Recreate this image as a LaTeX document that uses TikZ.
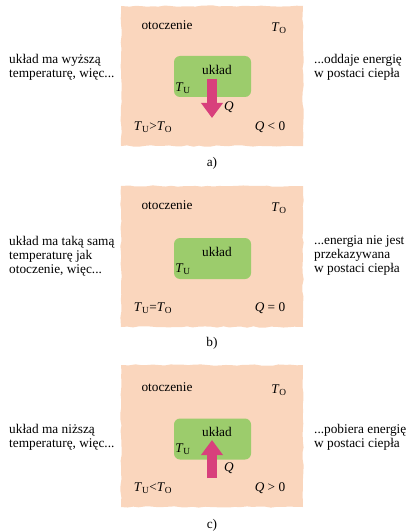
\documentclass[tikz,border=0pt]{standalone}
\usepackage{fontspec}
\setmainfont{Liberation Serif}
\usepackage{xcolor}
\definecolor{peach}{HTML}{FAD6BD}
\definecolor{grass}{HTML}{9CCC6C}
\definecolor{heatc}{HTML}{D8407C}
\usetikzlibrary{arrows.meta,positioning,decorations.pathmorphing}
\newcommand{\TU}{\textit{T}\textsubscript{U}}
\newcommand{\TO}{\textit{T}\textsubscript{O}}

\begin{document}
\begin{tikzpicture}[x=1pt,y=-1pt,every node/.style={font=\fontsize{13.3}{14}\selectfont,inner sep=1pt}]
\tikzstyle{surround}=[fill=peach,decorate,decoration={random steps,segment length=6pt,amplitude=0.7pt}]
\tikzstyle{system}=[rounded corners=6pt,fill=grass,minimum width=77pt,minimum height=41pt]
\tikzstyle{side}=[align=left,anchor=west]
\tikzstyle{heat}=[line width=10pt,heatc,-{Triangle[width=21pt,length=15pt]}]
\useasboundingbox (0,0) rectangle (408,532);
\pgfmathsetseed{7}
% a)
\fill[surround] (121,6) rectangle (303,146);
\node (envA) at (167,25) {otoczenie};
\node (toA) at (279,28) {\TO};
\node[side] (leftA) at (8,67) {układ ma wyższą\\temperaturę, więc...};
\node[side] (rightA) at (313,67) {...oddaje energię\\w postaci ciepła};
\node[system] (sysA) at (212.5,76.5) {};
\node (ukA) at (217,70) {układ};
\node (tuA) at (183,88) {\TU};
\coordinate (qa1) at (212,79);
\coordinate (qa2) at (212,118);
\draw[heat] (qa1)--(qa2);
\node (qA) at (229,107) {\textit{Q}};
\node (condA) at (153,127) {\TU>\TO};
\node (signA) at (270,127) {\textit{Q} < 0};
\node (capA) at (212,163) {a)};
% b)
\fill[surround] (121,186) rectangle (303,327);
\node (envB) at (167,205) {otoczenie};
\node (toB) at (279,208) {\TO};
\node[side] (leftB) at (8,256) {układ ma taką samą\\temperaturę jak\\otoczenie, więc...};
\node[side] (rightB) at (313,256) {...energia nie jest\\przekazywana\\w postaci ciepła};
\node[system] (sysB) at (212.5,258.5) {};
\node (ukB) at (217,252) {układ};
\node (tuB) at (183,269) {\TU};
\node (condB) at (153,308) {\TU=\TO};
\node (signB) at (270,308) {\textit{Q} = 0};
\node (capB) at (212,343) {b)};
% c)
\fill[surround] (121,365) rectangle (303,507);
\node (envC) at (167,387) {otoczenie};
\node (toC) at (279,390) {\TO};
\node[side] (leftC) at (8,437) {układ ma niższą\\temperaturę, więc...};
\node[side] (rightC) at (313,437) {...pobiera energię\\w postaci ciepła};
\node[system] (sysC) at (212.5,439) {};
\node (ukC) at (217,432) {układ};
\node (tuC) at (183,449) {\TU};
\coordinate (qc1) at (212,478);
\coordinate (qc2) at (212,440);
\draw[heat] (qc1)--(qc2);
\node (qC) at (229,468) {\textit{Q}};
\node (condC) at (153,488) {\TU<\TO};
\node (signC) at (270,488) {\textit{Q} > 0};
\node (capC) at (212,525) {c)};
\end{tikzpicture}
\end{document}
